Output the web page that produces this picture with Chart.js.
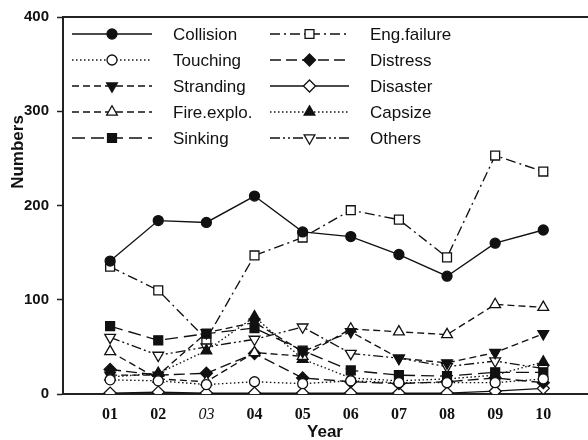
<!DOCTYPE html>
<html>
<head>
<meta charset="utf-8">
<script src="https://cdn.jsdelivr.net/npm/chart.js@4.4.1/dist/chart.umd.min.js"></script>
<style>
html,body{margin:0;padding:0;background:#fff;overflow:hidden;}
#wrap{width:588px;height:440px;overflow:hidden;position:relative;}
#c{position:absolute;left:0;top:0;}
</style>
</head>
<body>
<div id="wrap"><canvas id="c" width="597" height="440"></canvas></div>
<script>
const years = ['01','02','03','04','05','06','07','08','09','10'];
const yTicks = [0, 100, 200, 300, 400];

const collision  = [141, 184, 182, 210, 172, 167, 148, 125, 160, 174];
const touching   = [15, 14, 10, 13, 11, 14, 12, 12, 12, 16];
const stranding  = [20, 20, 65, 76, 45, 66, 38, 33, 44, 64];
const fireExplo  = [45, 16, 13, 44, 40, 69, 66, 63, 95, 92];
const sinking    = [72, 57, 64, 70, 46, 25, 20, 19, 23, 23];
const engFailure = [135, 110, 58, 147, 166, 195, 185, 145, 253, 236];
const distress   = [26, 20, 22, 43, 17, 13, 11, 13, 17, 12];
const disaster   = [1, 2, 1, 1, 1, 1, 1, 1, 3, 6];
const capsize    = [18, 22, 46, 82, 37, 17, 14, 16, 20, 34];
const others     = [60, 41, 50, 58, 71, 43, 38, 29, 35, 27];

const INK = '#111';
function pts(arr){ return arr.map((v,i)=>({x:i+1, y:v})); }

// label, data, dash, pointStyle, filled, rotation
const series = [
  ['Collision',  collision,  [],             'circle',   true,  0],
  ['Touching',   touching,   [1.5,2.5],      'circle',   false, 0],
  ['Stranding',  stranding,  [7,4],          'triangle', true,  180],
  ['Fire.explo.',fireExplo,  [7,4],          'triangle', false, 0],
  ['Sinking',    sinking,    [13,6],         'rect',     true,  0],
  ['Eng.failure',engFailure, [10,4,2,4],     'rect',     false, 0],
  ['Distress',   distress,   [11,5],         'rectRot',  true,  0],
  ['Disaster',   disaster,   [],             'rectRot',  false, 0],
  ['Capsize',    capsize,    [1.5,2.5],      'triangle', true,  0],
  ['Others',     others,     [10,3,2,3,2,3], 'triangle', false, 180]
];

function radiusFor(style){
  if (style==='rect') return 6.3;
  if (style==='rectRot') return 6;
  if (style==='triangle') return 6.2;
  return 5;
}

const datasets = series.map(s => ({
  label: s[0],
  data: pts(s[1]),
  borderColor: INK,
  borderWidth: 1.35,
  borderDash: s[2],
  pointStyle: s[3],
  pointRotation: s[5],
  pointRadius: radiusFor(s[3]),
  pointBorderWidth: 1.3,
  pointBorderColor: INK,
  pointBackgroundColor: s[4] ? INK : '#fff',
  tension: 0,
  fill: false
}));

function drawMarker(ctx, style, x, y, r, filled, rot){
  ctx.save();
  ctx.setLineDash([]);
  ctx.lineWidth = 1.3;
  ctx.strokeStyle = INK;
  ctx.fillStyle = filled ? INK : '#fff';
  ctx.translate(x, y);
  ctx.rotate(rot*Math.PI/180);
  ctx.beginPath();
  if (style==='circle'){
    ctx.arc(0,0,r,0,Math.PI*2);
  } else if (style==='rect'){
    const h = r*Math.SQRT1_2;
    ctx.rect(-h, -h, 2*h, 2*h);
  } else if (style==='rectRot'){
    ctx.moveTo(0,-r); ctx.lineTo(r,0); ctx.lineTo(0,r); ctx.lineTo(-r,0); ctx.closePath();
  } else if (style==='triangle'){
    ctx.moveTo(0,-r); ctx.lineTo(r*0.866, r*0.5); ctx.lineTo(-r*0.866, r*0.5); ctx.closePath();
  }
  ctx.fill(); ctx.stroke();
  ctx.restore();
}

const decor = {
  id: 'decor',
  afterDraw(chart){
    const ctx = chart.ctx;
    const a = chart.chartArea;
    ctx.save();
    // top frame line
    ctx.strokeStyle = '#222';
    ctx.lineWidth = 2;
    ctx.setLineDash([]);
    ctx.beginPath();
    ctx.moveTo(a.left-1, a.top);
    ctx.lineTo(a.right + 10, a.top);
    ctx.stroke();

    // legend
    const cols = [{x0:72, x1:152, tx:173}, {x0:270, x1:349, tx:370}];
    const rowY = [34, 60, 86, 112, 138];
    ctx.font = '17px "Liberation Sans", Arial, sans-serif';
    ctx.textBaseline = 'middle';
    ctx.textAlign = 'left';
    series.forEach((s, i) => {
      const col = cols[i < 5 ? 0 : 1];
      const y = rowY[i % 5];
      ctx.strokeStyle = INK;
      ctx.lineWidth = 1.35;
      ctx.setLineDash(s[2]);
      ctx.beginPath();
      ctx.moveTo(col.x0, y);
      ctx.lineTo(col.x1, y);
      ctx.stroke();
      ctx.setLineDash([]);
      drawMarker(ctx, s[3], (col.x0+col.x1)/2, y, radiusFor(s[3]), s[4], s[5]);
      ctx.fillStyle = INK;
      ctx.fillText(s[0], col.tx, y+1);
    });

    // axis titles
    ctx.fillStyle = INK;
    ctx.font = 'bold 17px "Liberation Sans", Arial, sans-serif';
    ctx.textAlign = 'center';
    ctx.fillText('Year', 325, 432);
    ctx.translate(18, 152);
    ctx.rotate(-Math.PI/2);
    ctx.fillText('Numbers', 0, 0);
    ctx.restore();
  }
};

new Chart(document.getElementById('c'), {
  type: 'line',
  data: { datasets },
  options: {
    responsive: false,
    animation: false,
    layout: { padding: { left: 0, right: 0, top: 15, bottom: 0 } },
    plugins: { legend: { display: false }, tooltip: { enabled: false } },
    scales: {
      x: {
        type: 'linear',
        min: 0.021,
        max: 10.958,
        afterBuildTicks(scale){ scale.ticks = years.map((y,i)=>({value:i+1})); },
        afterFit(scale){ scale.height = 46; },
        grid: { display: false, drawTicks: false },
        border: { display: true, color: '#222', width: 2 },
        ticks: {
          autoSkip: false,
          maxRotation: 0,
          padding: 11,
          color: INK,
          callback(v){ const i = Math.round(v)-1; return years[i] !== undefined ? years[i] : ''; },
          font(ctx){
            const italic = ctx.tick && ctx.tick.value === 3;
            return { family: '"Liberation Serif", "Times New Roman", serif', size: 16, weight: italic ? 'normal' : 'bold', style: italic ? 'italic' : 'normal' };
          }
        }
      },
      y: {
        min: 0,
        max: 400,
        afterBuildTicks(scale){ scale.ticks = yTicks.map(v=>({value:v})); },
        afterFit(scale){ scale.width = 63; },
        grid: { display: true, drawOnChartArea: false, drawTicks: true, tickLength: 6, tickColor: '#222', tickWidth: 1.5 },
        border: { display: true, color: '#222', width: 2 },
        ticks: {
          padding: 8,
          color: INK,
          font: { family: '"Liberation Sans", Arial, sans-serif', size: 15, weight: 'bold' }
        }
      }
    }
  },
  plugins: [decor]
});
</script>
</body>
</html>
